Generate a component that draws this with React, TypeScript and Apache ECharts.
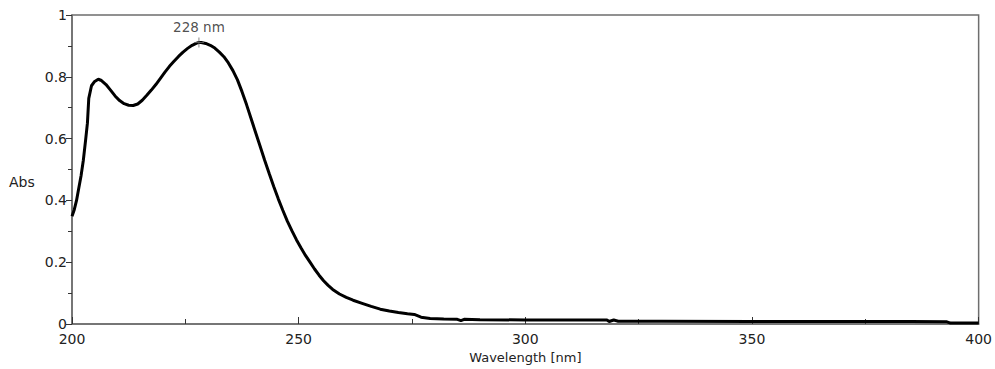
import React, { useEffect, useRef } from "react";
import * as echarts from "echarts";

const wavelengths = [
  200, 200.5, 201, 201.5, 202, 202.5, 203, 203.4, 203.7, 204.3, 205, 205.8, 206.5, 207.5, 208.5, 209.5,
  210.5, 211.5, 212.5, 213.5, 214.5, 215.5, 216.5, 217.5, 218.5, 219.5, 220.5, 221.5, 222.5, 223.5,
  224.5, 225.5, 226.5, 227.5, 228, 228.5, 229.5, 230.5, 231.5, 232.5, 233.5, 234.5, 235.5, 236.5,
  237.5, 238.5, 239.5, 240.5, 241.5, 242.5, 243.5, 244.5, 245.5, 246.5, 247.5, 248.5, 249.5, 250.5,
  251.5, 252.5, 253.5, 254.5, 255.5, 256.5, 257.5, 259, 260.5, 262, 264, 266, 268, 270, 272, 274,
  275.5, 277, 279, 282, 285, 285.8, 286.5, 290, 300, 310, 318, 318.5, 319.5, 320.5, 330, 350, 370,
  385, 393, 393.8, 400,
];
const absorbance = [
  0.349, 0.37, 0.4, 0.44, 0.48, 0.53, 0.595, 0.65, 0.73, 0.771, 0.785, 0.792, 0.788, 0.775, 0.757, 0.738,
  0.723, 0.713, 0.708, 0.707, 0.712, 0.724, 0.74, 0.757, 0.775, 0.795, 0.815, 0.834, 0.85, 0.866,
  0.88, 0.892, 0.902, 0.909, 0.911, 0.911, 0.908, 0.902, 0.893, 0.88, 0.865, 0.845, 0.82, 0.79,
  0.752, 0.71, 0.665, 0.62, 0.575, 0.53, 0.487, 0.445, 0.405, 0.368, 0.333, 0.302, 0.273, 0.247,
  0.222, 0.2, 0.178, 0.158, 0.14, 0.125, 0.112, 0.097, 0.086, 0.077, 0.067, 0.057, 0.048, 0.042, 0.037, 0.033,
  0.031, 0.022, 0.018, 0.016, 0.015, 0.011, 0.015, 0.014, 0.013, 0.013, 0.013, 0.008, 0.013, 0.009, 0.009, 0.008, 0.008,
  0.008, 0.007, 0.003, 0.003,
];
const peakWavelength = 228;
const peakAbs = 0.911;
const peakLabel = "228 nm";
const xAxisName = "Wavelength [nm]";
const yAxisName = "Abs";

const FONT = "DejaVu Sans";

export default function App() {
  const ref = useRef<HTMLDivElement>(null);
  useEffect(() => {
    document.body.style.margin = "0";
    document.body.style.overflow = "hidden";
    document.documentElement.style.overflow = "hidden";
    if (!ref.current) return;
    const chart = echarts.init(ref.current, null, { renderer: "svg" });
    const data = wavelengths.map((w, i) => [w, absorbance[i]]);
    chart.setOption({
      animation: false,
      backgroundColor: "#fff",
      grid: {
        left: 72,
        right: 11,
        top: 15,
        bottom: 35,
        show: true,
        borderColor: "#6e6e6e",
        borderWidth: 1.5,
      },
      xAxis: {
        type: "value",
        min: 200,
        max: 400,
        interval: 50,
        name: xAxisName,
        nameLocation: "middle",
        nameGap: 27,
        nameTextStyle: { fontFamily: FONT, fontSize: 13, color: "#222" },
        axisLine: { show: true, lineStyle: { color: "#6e6e6e", width: 1.5 } },
        axisTick: { show: true, inside: true, length: 7, lineStyle: { color: "#333" } },
        minorTick: { show: true, splitNumber: 2, length: 5, lineStyle: { color: "#333" } },
        splitLine: { show: false },
        axisLabel: { fontFamily: FONT, fontSize: 14, color: "#222", margin: 8 },
      },
      yAxis: {
        type: "value",
        min: 0,
        max: 1,
        interval: 0.2,
        axisLine: { show: true, lineStyle: { color: "#6e6e6e", width: 1.5 } },
        axisTick: { show: true, inside: false, length: 6, lineStyle: { color: "#333" } },
        minorTick: { show: true, splitNumber: 2, length: 4, lineStyle: { color: "#333" } },
        splitLine: { show: false },
        axisLabel: { fontFamily: FONT, fontSize: 14, color: "#222", margin: 5 },
      },
      graphic: [
        {
          type: "text",
          left: 9,
          top: 175,
          style: { text: yAxisName, fontFamily: FONT, fontSize: 14, fill: "#222" },
        },
      ],
      series: [
        {
          type: "line",
          data,
          showSymbol: false,
          smooth: false,
          lineStyle: { color: "#000", width: 3 },
          z: 2,
        },
        {
          type: "scatter",
          data: [[peakWavelength, peakAbs]],
          symbol: "path://M0,5L10,5M5,0L5,10",
          symbolSize: 10,
          itemStyle: { color: "none", borderColor: "#666", borderWidth: 1 },
          label: {
            show: true,
            position: "top",
            distance: 1,
            formatter: peakLabel,
            fontFamily: FONT,
            fontSize: 13.5,
            color: "#222",
          },
          z: 3,
        },
      ],
    });
    return () => chart.dispose();
  }, []);
  return (
    <div
      ref={ref}
      style={{ position: "absolute", left: 0, top: 0, width: 995, height: 369 }}
    />
  );
}
